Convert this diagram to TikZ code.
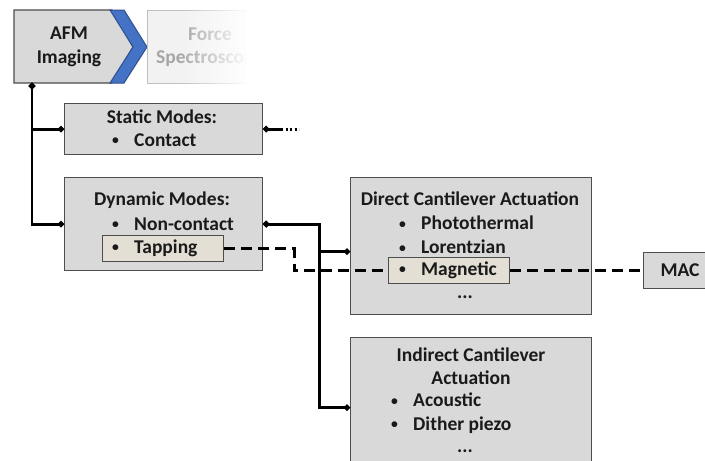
\documentclass[tikz,border=0pt]{standalone}
\usepackage{fontspec}
\setmainfont{Carlito}
\usetikzlibrary{arrows.meta}
\usetikzlibrary{fadings}
\definecolor{boxgrey}{HTML}{D9D9D9}
\definecolor{boxline}{HTML}{4D4D4D}
\definecolor{tapbeige}{HTML}{E4DFD5}
\definecolor{chevblue}{HTML}{4472C4}
\definecolor{chevline}{HTML}{2F4F8F}
\definecolor{fadegrey}{HTML}{A6A6A6}
\definecolor{inkblack}{HTML}{1A1A1A}
\tikzset{box/.style = {draw=boxline, fill=boxgrey, line width=1.2pt,
                       anchor=north west, inner sep=0pt},
         subbox/.style = {box, fill=tapbeige},
         lbl/.style = {font=\bfseries\fontsize{19.5}{23.5}\selectfont, text=inkblack,
                       inner sep=0pt},
         conn/.style = {line width=2.8pt, {Circle[length=6pt]}-{Circle[length=6pt]}},
         dashconn/.style = {line width=2.8pt, dash pattern=on 11pt off 6pt}}
\newcommand{\itm}[1]{\makebox[22pt][l]{\raisebox{0.15ex}{\scalebox{0.7}{\textbullet}}}#1}

\begin{document}
\begin{tikzpicture}[x=1pt, y=-1pt]
      \useasboundingbox (0,0) rectangle (705,461);
      \fill[white] (0,0) rectangle (705,461);
      \clip (0,0) rectangle (705,461);
      % top chevrons
      \fill[boxgrey, draw=boxline, line width=1.2pt] (14,10) -- (112,10) -- (133,47) -- (112,83) -- (14,83) -- cycle;
      \fill[chevblue, draw=chevline, line width=1pt] (110,10) -- (124,10) -- (147,47) -- (124,83) -- (110,83) -- (133,47) -- cycle;
      \node[lbl, align=center] (afm) at (69,47) {AFM\\Imaging};
      \node[box, fill=black!5, draw=black!25, line width=1pt, minimum width=105pt, minimum height=73pt] (force) at (147,10) {};
      \node[lbl, text=fadegrey, align=center] (forcetxt) at (210,47) {Force\\Spectroscopy};
      \fill[white, path fading=west] (180,4) rectangle (250,90);
      \fill[white] (246,4) rectangle (300,90);
      % mode boxes
      \node[box, minimum width=198pt, minimum height=51pt] (static) at (64,103) {};
      \node[lbl] (statictitle) at (162,117) {Static Modes:};
      \node[lbl, anchor=west] (contact) at (112,140) {\itm{Contact}};
      \node[box, minimum width=198pt, minimum height=93pt] (dynamic) at (64,177) {};
      \node[lbl] (dyntitle) at (162,200) {Dynamic Modes:};
      \node[lbl, anchor=west] (noncontact) at (112,224) {\itm{Non-contact}};
      \node[subbox, minimum width=121pt, minimum height=26pt] (tapping) at (102,235) {};
      \node[lbl, anchor=west] (taptxt) at (112,248) {\itm{Tapping}};
      % actuation boxes
      \node[box, minimum width=241pt, minimum height=137pt] (direct) at (350,177) {};
      \node[lbl] (directtitle) at (470,199) {Direct Cantilever Actuation};
      \node[lbl, anchor=west] (photo) at (399,223) {\itm{Photothermal}};
      \node[lbl, anchor=west] (lorentz) at (399,247) {\itm{Lorentzian}};
      \node[subbox, minimum width=121pt, minimum height=26pt] (magnetic) at (388,257) {};
      \node[lbl, anchor=west] (magtxt) at (399,270) {\itm{Magnetic}};
      \node[lbl] (directdots) at (465,297) {...};
      \node[box, minimum width=241pt, minimum height=140pt] (indirect) at (350,337) {};
      \node[lbl, align=center] (indtitle) at (471,366) {Indirect Cantilever\\Actuation};
      \node[lbl, anchor=west] (acoustic) at (391,400) {\itm{Acoustic}};
      \node[lbl, anchor=west] (dither) at (391,425) {\itm{Dither piezo}};
      \node[lbl] (inddots) at (465,451) {...};
      \node[box, minimum width=80pt, minimum height=36pt] (mac) at (643,252) {};
      \node[lbl] (mactxt) at (680,270) {MAC};
      % connectors
      \coordinate (afmfoot) at (32,83);
      \draw[conn] (afmfoot) |- (static.west);
      \draw[conn] (afmfoot) |- (dynamic.west);
      \draw[line width=2.8pt, {Circle[length=6pt]}-] (static.east) -- ++(18,0) coordinate (statictail);
      \draw[line width=2.8pt, dash pattern=on 2pt off 2.5pt] (statictail) -- ++(18,0);
      \draw[conn] (dynamic.east) -- ++(56,0) |- ([yshift=-5.5pt]direct.west);
      \draw[conn] (dynamic.east) -- ++(56,0) |- (indirect.west);
      \draw[dashconn] (tapping.east) -- ++(70,0) |- (magnetic.west);
      \draw[dashconn] (magnetic.east) -- (mac.west);
    \end{tikzpicture}
\end{document}
